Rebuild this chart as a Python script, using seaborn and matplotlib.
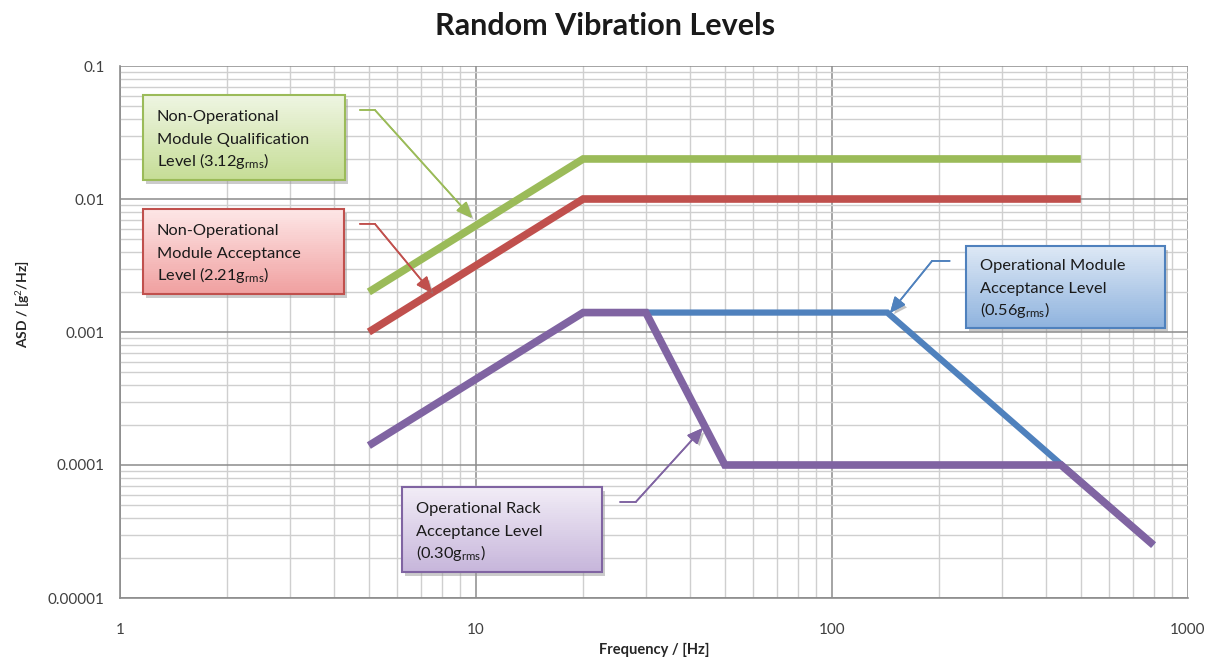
import matplotlib
matplotlib.use("Agg")
import matplotlib.pyplot as plt
import matplotlib.patheffects as pe
from matplotlib.patches import Rectangle
from matplotlib.ticker import LogLocator, NullFormatter
import numpy as np
import pandas as pd
import seaborn as sns

sns.set_theme(style="white")
plt.rcParams.update({
    "font.family": ["Lato", "DejaVu Sans"],
    "mathtext.fontset": "custom",
    "mathtext.rm": "Lato",
    "mathtext.it": "Lato",
    "mathtext.bf": "Lato:bold",
})

# podaci ocitani s grafa (frekvencija Hz, ASD g^2/Hz)
green_f = [5, 20, 500]
green_asd = [0.002, 0.02, 0.02]
red_f = [5, 20, 500]
red_asd = [0.001, 0.01, 0.01]
blue_f = [20, 143, 800]
blue_asd = [0.0014, 0.0014, 0.000025]
purple_f = [5, 20, 30, 50, 440, 800]
purple_asd = [0.00014, 0.0014, 0.0014, 0.0001, 0.0001, 0.000025]

x_ticks = [1, 10, 100, 1000]
x_labels = ["1", "10", "100", "1000"]
y_ticks = [0.00001, 0.0001, 0.001, 0.01, 0.1]
y_labels = ["0.00001", "0.0001", "0.001", "0.01", "0.1"]

GREEN, RED, BLUE, PURPLE = "#9BBB59", "#C0504D", "#4F81BD", "#8064A2"

fig = plt.figure(figsize=(12.15, 6.58), dpi=100)
ax = fig.add_axes([120 / 1215, 1 - 598 / 658, 1068 / 1215, 532 / 658])
ax.set_xscale("log")
ax.set_yscale("log")
ax.set_xlim(1, 1000)
ax.set_ylim(0.00001, 0.1)

# mreza
ax.xaxis.set_minor_locator(LogLocator(base=10, subs=np.arange(2, 10)))
ax.yaxis.set_minor_locator(LogLocator(base=10, subs=np.arange(2, 10)))
ax.xaxis.set_minor_formatter(NullFormatter())
ax.yaxis.set_minor_formatter(NullFormatter())
ax.grid(which="minor", color="#cfcfcf", lw=1.0, zorder=0)
ax.grid(which="major", color="#8c8c8c", lw=1.1, zorder=0)
ax.set_axisbelow(True)

serije = [
    (green_f, green_asd, GREEN, 5.5),
    (red_f, red_asd, RED, 5.5),
    (blue_f, blue_asd, BLUE, 4.5),
    (purple_f, purple_asd, PURPLE, 5.5),
]
for f, a, c, lw in serije:
    d = pd.DataFrame({"f": f, "asd": a})
    sns.lineplot(data=d, x="f", y="asd", ax=ax, color=c, lw=lw,
                 estimator=None, sort=False, zorder=3,
                 solid_capstyle="butt", solid_joinstyle="miter")

ax.set_xticks(x_ticks, x_labels)
ax.set_yticks(y_ticks, y_labels)
ax.tick_params(axis="both", which="major", labelsize=11, colors="#404040",
               length=5, width=1)
ax.tick_params(axis="x", which="major", direction="inout", length=8, pad=14)
ax.tick_params(axis="y", which="major", direction="out", pad=6)
ax.tick_params(which="minor", length=0)
for s in ["top", "right"]:
    ax.spines[s].set_visible(False)
for s in ["left", "bottom"]:
    ax.spines[s].set_color("#8c8c8c")
    ax.spines[s].set_linewidth(1.2)

ax.set_xlabel("Frequency / [Hz]", fontsize=10.5, fontweight="bold", labelpad=4)
ax.set_ylabel("ASD / [g$^2$/Hz]", fontsize=10, fontweight="bold")
ax.yaxis.set_label_coords(-0.083, 0.553)
fig.text(605 / 1215, 1 - 26 / 658, "Random Vibration Levels", ha="center",
         va="center", fontsize=22, fontweight="bold", color="#1a1a1a")

RED_PX = 22.5 / 532  # razmak redaka u okviru (udio osi)


def okvir(x0, x1, y0, y1, c_top, c_bot, rub, redovi):
    # sjena
    ax.add_patch(Rectangle((x0 + 0.003, y0 - 0.007), x1 - x0, y1 - y0,
                           transform=ax.transAxes, color="#999999", alpha=0.5,
                           lw=0, zorder=5))
    n = 40
    ct = np.array(matplotlib.colors.to_rgb(c_top))
    cb = np.array(matplotlib.colors.to_rgb(c_bot))
    h = (y1 - y0) / n
    for i in range(n):
        t = i / (n - 1)
        col = cb * (1 - t) + ct * t
        ax.add_patch(Rectangle((x0, y0 + i * h), x1 - x0, h * 1.05,
                               transform=ax.transAxes, color=col, lw=0, zorder=6))
    ax.add_patch(Rectangle((x0, y0), x1 - x0, y1 - y0, transform=ax.transAxes,
                           fill=False, ec=rub, lw=1.5, zorder=7))
    yc = (y0 + y1) / 2 - 6 / 532
    for k, red in enumerate(redovi):
        ax.text(x0 + 0.013, yc + (1 - k) * RED_PX, red, transform=ax.transAxes,
                ha="left", va="baseline", fontsize=11.8, color="#1a1a1a",
                zorder=8)


okvir(0.0215, 0.2107, 0.7857, 0.9455, "#eef5e2", "#c6dd96", GREEN,
      ["Non-Operational", "Module Qualification", "Level (3.12g$_{\\mathrm{rms}}$)"])
okvir(0.0215, 0.2097, 0.5714, 0.7312, "#fde6e6", "#f0a0a0", RED,
      ["Non-Operational", "Module Acceptance", "Level (2.21g$_{\\mathrm{rms}}$)"])
okvir(0.7921, 0.9785, 0.5075, 0.6617, "#dde8f5", "#8fb3de", BLUE,
      ["Operational Module", "Acceptance Level", "(0.56g$_{\\mathrm{rms}}$)"])
okvir(0.2640, 0.4513, 0.0489, 0.2086, "#f1ecf6", "#c7b6db", PURPLE,
      ["Operational Rack", "Acceptance Level", "(0.30g$_{\\mathrm{rms}}$)"])

sjena = [pe.withSimplePatchShadow(offset=(2, -2), shadow_rgbFace="#888888", alpha=0.5),
         pe.Normal()]
strelice = [
    ((4.72, 0.0467), (5.2, 0.0467), (9.75, 0.0072), GREEN),
    ((4.72, 0.0065), (5.2, 0.0065), (7.52, 0.00197), RED),
    ((214, 0.00342), (191, 0.00342), (145.5, 0.00139), BLUE),
    ((25.4, 0.0000527), (28.1, 0.0000527), (43.4, 0.00019), PURPLE),
]
for rep, lom, vrh, c in strelice:
    ax.annotate("", xy=lom, xytext=rep,
                arrowprops=dict(arrowstyle="-", color=c, lw=1.2, shrinkA=0, shrinkB=0,
                                path_effects=sjena), zorder=4)
    ax.annotate("", xy=vrh, xytext=lom,
                arrowprops=dict(arrowstyle="-|>,head_length=0.8,head_width=0.35",
                                color=c, lw=1.2, shrinkA=0, shrinkB=0,
                                path_effects=sjena), zorder=4)

fig.savefig("out.png", dpi=100)
